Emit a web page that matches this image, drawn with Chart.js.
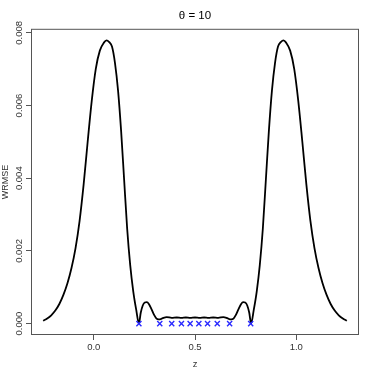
<!DOCTYPE html>
<html>
<head>
<meta charset="utf-8">
<script src="https://cdn.jsdelivr.net/npm/chart.js@4.4.1/dist/chart.umd.min.js"></script>
<style>
html,body{margin:0;padding:0;background:#fff}
#wrap{width:374px;height:374px}
</style>
</head>
<body>
<div id="wrap"><canvas id="c1" width="374" height="374"></canvas></div>
<script>
// curve samples
const zVals=[-0.25,-0.23,-0.21,-0.19,-0.17,-0.15,-0.13,-0.11,-0.09,-0.07,-0.05,-0.03,-0.01,0.01,0.03,0.05,0.063,0.075,0.09,0.105,0.12,0.135,0.15,0.165,0.18,0.195,0.21,0.223,
0.232,0.242,0.252,0.262,0.272,0.285,0.298,0.31,0.32,0.327,0.34,0.36,0.385,0.41,0.433,0.455,0.476,0.5,
0.524,0.545,0.567,0.59,0.615,0.64,0.66,0.673,0.68,0.69,0.702,0.715,0.728,0.738,0.748,0.758,0.768,0.777,
0.79,0.805,0.82,0.835,0.85,0.865,0.88,0.895,0.91,0.925,0.937,0.95,0.97,0.99,1.01,1.03,1.05,1.07,1.09,1.11,1.13,1.15,1.17,1.19,1.21,1.23,1.25];
const wrmse=[0.00008,0.00014,0.00023,0.00036,0.00054,0.00079,0.00111,0.00153,0.00208,0.00283,0.00383,0.00501,0.00613,0.00701,0.00751,0.00773,0.00779,0.00775,0.00762,0.00716,0.00641,0.00531,0.00396,0.00261,0.00161,0.00089,0.00037,0.0,
0.0003,0.0005,0.00058,0.00059,0.00054,0.0004,0.00024,0.00014,0.00012,0.00012,0.00015,0.00018,0.00016,0.00017,0.00016,0.00017,0.00016,0.00017,
0.00016,0.00017,0.00016,0.00017,0.00016,0.00018,0.00015,0.00012,0.00012,0.00014,0.00024,0.0004,0.00054,0.00059,0.00058,0.0005,0.0003,0.0,
0.00037,0.00089,0.00161,0.00261,0.00396,0.00531,0.00641,0.00716,0.00762,0.00775,0.00779,0.00773,0.00751,0.00701,0.00613,0.00501,0.00383,0.00283,0.00208,0.00153,0.00111,0.00079,0.00054,0.00036,0.00023,0.00014,0.00008];
// design points (blue crosses)
const designZ=[0.223,0.326,0.385,0.433,0.476,0.519,0.562,0.61,0.671,0.775];
const designY=[0,0,0,0,0,0,0,0,0,0];
const xTicks=[0,0.5,1];
const yTicks=[0,0.002,0.004,0.006,0.008];

const FONT='"Liberation Sans", Arial, sans-serif';

const boxPlugin={id:'rbox',afterDraw(ch){const a=ch.chartArea,g=ch.ctx;g.save();g.strokeStyle='#555';g.lineWidth=1;g.strokeRect(a.left+0.5,a.top+0.5,a.right-a.left-1,a.bottom-a.top-1);g.restore();}};

let Chart1=new Chart(document.getElementById('c1'),{
  type:'line',
  data:{datasets:[
    {data:zVals.map((z,i)=>({x:z,y:wrmse[i]})),borderColor:'#000',borderWidth:1.8,pointRadius:0,tension:0.4,cubicInterpolationMode:'monotone',fill:false,order:2},
    {type:'scatter',data:designZ.map((z,i)=>({x:z,y:designY[i]})),pointStyle:'crossRot',pointRadius:3.6,borderColor:'#2a2aff',borderWidth:1.4,backgroundColor:'#2a2aff',order:1}
  ]},
  options:{
    responsive:false,animation:false,
    layout:{padding:{right:15,left:0,top:0,bottom:0}},
    plugins:{
      legend:{display:false},tooltip:{enabled:false},
      title:{display:true,text:'θ = 10',fullSize:false,color:'#000',font:{family:FONT,size:11.5,weight:'normal'},padding:{top:9,bottom:6}}
    },
    scales:{
      x:{type:'linear',min:-0.31,max:1.31,
        afterBuildTicks:s=>{s.ticks=xTicks.map(v=>({value:v}))},
        afterFit:s=>{s.height=39},
        ticks:{color:'#333',font:{family:FONT,size:9.5},padding:2,maxRotation:0,callback:v=>v.toFixed(1)},
        grid:{drawOnChartArea:false,tickLength:5,color:'#555'},border:{display:false},
        title:{display:true,text:'z',color:'#333',font:{family:FONT,size:9.5},padding:{top:2,bottom:4}}
      },
      y:{type:'linear',min:-0.000312,max:0.00811,
        afterBuildTicks:s=>{s.ticks=yTicks.map(v=>({value:v}))},
        afterFit:s=>{s.width=31},
        ticks:{color:'#333',font:{family:FONT,size:9.5},minRotation:90,maxRotation:90,crossAlign:'center',padding:-5,callback:v=>v.toFixed(3)},
        grid:{drawOnChartArea:false,tickLength:5,color:'#555'},border:{display:false},
        title:{display:true,text:'WRMSE',color:'#333',font:{family:FONT,size:9},padding:{top:0,bottom:0}}
      }
    }
  },
  plugins:[boxPlugin]
});
</script>
</body>
</html>
